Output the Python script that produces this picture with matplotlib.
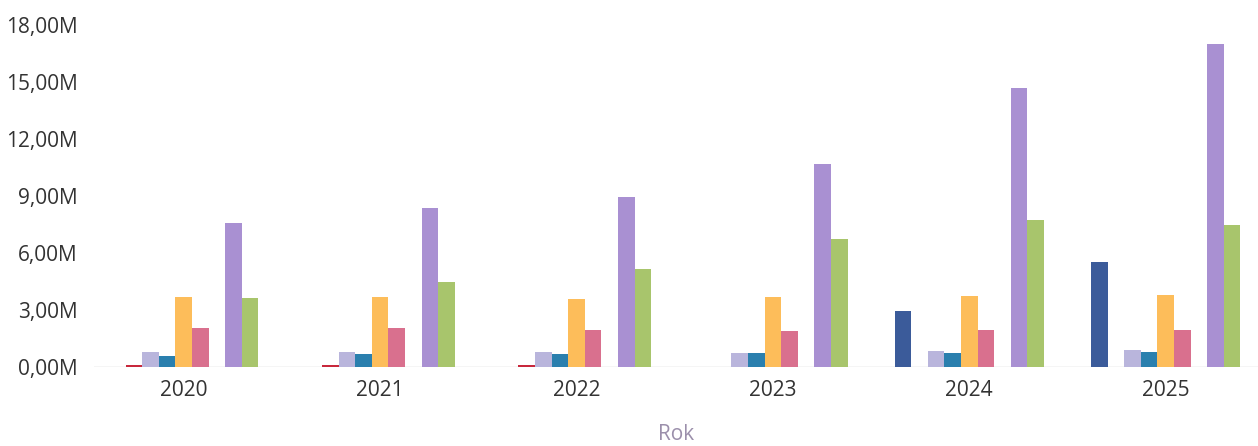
#!/usr/bin/env python3
"""
Grouped bar chart of yearly values per series (Rok 2020-2025).
"""

import numpy as np
import matplotlib.pyplot as plt
from matplotlib.ticker import FuncFormatter

years = ["2020", "2021", "2022", "2023", "2024", "2025"]

# values in millions
s_darkblue = [0.0, 0.0, 0.0, 0.0, 2.94, 5.54]
s_red = [0.13, 0.12, 0.10, 0.0, 0.0, 0.0]
s_lavender = [0.79, 0.79, 0.79, 0.76, 0.83, 0.88]
s_teal = [0.60, 0.70, 0.69, 0.76, 0.74, 0.79]
s_orange = [3.67, 3.67, 3.59, 3.70, 3.75, 3.78]
s_pink = [2.06, 2.06, 1.97, 1.90, 1.94, 1.94]
s_blank = [0.0, 0.0, 0.0, 0.0, 0.0, 0.0]
s_purple = [7.59, 8.36, 8.95, 10.70, 14.66, 17.00]
s_green = [3.64, 4.45, 5.17, 6.74, 7.74, 7.48]

series = [s_darkblue, s_red, s_lavender, s_teal, s_orange,
          s_pink, s_blank, s_purple, s_green]
colors = ["#3b5b9a", "#c8283c", "#b9b5dc", "#2a7fae", "#fdbd5a",
          "#d9708e", "#9e9e9e", "#a990d2", "#a8c56c"]

plt.rcParams["font.family"] = ["Open Sans", "DejaVu Sans"]

fig = plt.figure(figsize=(12.58, 4.46), dpi=100)
ax = fig.add_axes([0.075, 0.177, 0.925, 0.767])

x = np.arange(len(years))
n = len(series)
w = 0.0845
for i, (vals, c) in enumerate(zip(series, colors)):
    off = (i - (n - 1) / 2) * w
    ax.bar(x + off, vals, width=w, color=c, edgecolor="none")

ax.axhline(0, color="#cfcfcf", lw=1, zorder=0)
ax.set_xlim(-0.455, 5.47)
ax.set_ylim(0, 18)
ax.set_yticks(np.arange(0, 19, 3))
ax.yaxis.set_major_formatter(
    FuncFormatter(lambda v, _: f"{v:.2f}M".replace(".", ",")))
ax.set_xticks(x)
ax.set_xticklabels(years)
ax.tick_params(axis="both", length=0, labelsize=15, labelcolor="#333333")
ax.tick_params(axis="y", pad=12)
ax.tick_params(axis="x", pad=9)
for s in ax.spines.values():
    s.set_visible(False)
ax.set_xlabel("Rok", fontsize=15, color="#9b8fab", labelpad=17)

fig.savefig("out.png", dpi=100)
